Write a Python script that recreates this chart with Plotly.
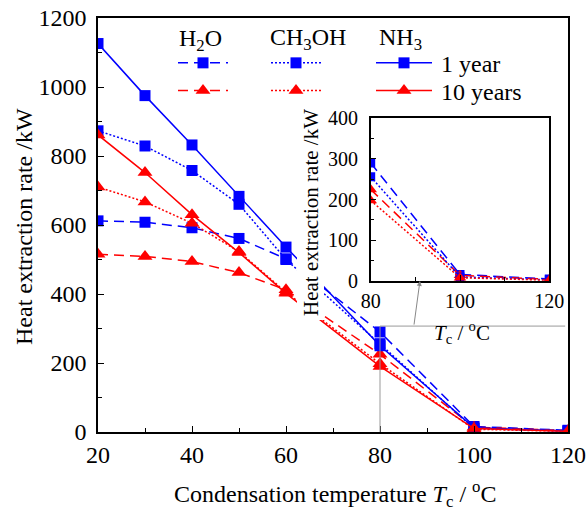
import plotly.graph_objects as go

# ---------------- data ----------------
T = [20, 30, 40, 50, 60, 80, 100, 120]
h2o_1yr = [612, 608, 592, 561, 502, 290, 16, 5]
ch3oh_1yr = [873, 829, 758, 660, 500, 256, 10, 3]
nh3_1yr = [1126, 975, 832, 683, 536, 250, 12, 3]
h2o_10yr = [515, 509, 494, 462, 412, 225, 14, 4]
ch3oh_10yr = [710, 667, 605, 523, 405, 198, 8, 2]
nh3_10yr = [861, 752, 630, 520, 402, 190, 10, 2]
fluids = ["H<sub>2</sub>O", "CH<sub>3</sub>OH", "NH<sub>3</sub>"]
periods = ["1 year", "10 years"]
inset_start = 5  # index of T = 80

BLUE = "#0000ff"
RED = "#ff0000"
FONT = "Times New Roman, Liberation Serif, serif"
DASH = "10px,6px"
DOT = "2px,2px"

series = [
    (h2o_1yr, BLUE, DASH, "square", "legend", " "),
    (h2o_10yr, RED, DASH, "triangle-up", "legend", " "),
    (ch3oh_1yr, BLUE, DOT, "square", "legend2", " "),
    (ch3oh_10yr, RED, DOT, "triangle-up", "legend2", " "),
    (nh3_1yr, BLUE, "solid", "square", "legend3", " "),
    (nh3_10yr, RED, "solid", "triangle-up", "legend3", " "),
]

fig = go.Figure()

for vals, col, dash, sym, leg, name in series:
    fig.add_trace(go.Scatter(
        x=T, y=vals, mode="lines+markers", name=name, legend=leg,
        line=dict(color=col, width=1.5, dash=dash),
        marker=dict(symbol=sym, size=11 if sym == "square" else 13, color=col),
        xaxis="x", yaxis="y",
    ))

# cover (white box behind inset y-title)
fig.add_trace(go.Scatter(x=[None], y=[None], xaxis="x2", yaxis="y2",
                         showlegend=False, hoverinfo="skip"))

# inset traces (H2O and CH3OH)
for vals, col, dash, sym, leg, name in series[:4]:
    fig.add_trace(go.Scatter(
        x=T[inset_start:], y=vals[inset_start:], mode="lines+markers",
        showlegend=False,
        line=dict(color=col, width=1.5, dash=dash),
        marker=dict(symbol=sym, size=9 if sym == "square" else 11, color=col),
        xaxis="x3", yaxis="y3",
    ))

axis_common = dict(
    showline=True, linecolor="black", linewidth=1.5, mirror=True,
    ticks="inside", ticklen=6, tickwidth=1.2, tickcolor="black",
    showgrid=False, zeroline=False,
)
minor_common = dict(ticks="inside", ticklen=4, tickcolor="black", tickwidth=1.2)

W, H = 587, 511
L, R, TOP, B = 98, 19, 18, 79
pw, ph = W - L - R, H - TOP - B


def px_x(p):
    return (p - L) / pw


def px_y(p):
    return (H - B - p) / ph


def ann(text, x, y, size, angle=0, xanchor="center"):
    return dict(text=text, x=px_x(x), y=px_y(y), xref="paper", yref="paper",
                xanchor=xanchor, yanchor="middle", textangle=angle,
                showarrow=False, font=dict(family=FONT, size=size, color="black"))


def leg(x, y, iw):
    return dict(x=px_x(x), y=px_y(y), xanchor="left", yanchor="top",
                bgcolor="rgba(0,0,0,0)", itemwidth=iw, tracegroupgap=0,
                font=dict(family=FONT, size=19, color="black"))


fig.update_layout(
    template="none",
    width=W, height=H,
    margin=dict(l=L, r=R, t=TOP, b=B),
    paper_bgcolor="white", plot_bgcolor="white",
    font=dict(family=FONT, size=20, color="black"),
    xaxis=dict(range=[20, 120], dtick=20, tick0=20, minor=dict(dtick=10, **minor_common),
               tickfont=dict(family=FONT, size=24, color="black"), ticklabelstandoff=0,
               **axis_common),
    yaxis=dict(range=[0, 1200], dtick=200, minor=dict(dtick=100, **minor_common),
               tickfont=dict(family=FONT, size=24, color="black"), ticklabelstandoff=5,
               **axis_common),
    xaxis2=dict(domain=[px_x(297), px_x(324)], anchor="y2", visible=False, range=[0, 1]),
    yaxis2=dict(domain=[px_y(320), px_y(100)], anchor="x2", visible=False, range=[0, 1]),
    xaxis3=dict(domain=[px_x(370.7), px_x(549.3)], anchor="y3",
                range=[80, 120], dtick=20, tick0=80, minor=dict(dtick=10, **minor_common),
                tickfont=dict(family=FONT, size=20, color="black"), ticklabelstandoff=1,
                **axis_common),
    yaxis3=dict(domain=[px_y(281), px_y(118.3)], anchor="x3",
                range=[0, 400], dtick=100, minor=dict(dtick=50, **minor_common),
                tickfont=dict(family=FONT, size=20, color="black"), ticklabelstandoff=7,
                **axis_common),
    showlegend=True,
    legend=leg(173, 44, 50),
    legend2=leg(266, 44, 50),
    legend3=leg(371, 44, 56),
)

annotations = [
    ann(fluids[0], 200, 40, 24),
    ann(fluids[1], 308, 39, 24),
    ann(fluids[2], 400, 39, 24),
    ann(periods[0], 439, 64, 24, xanchor="left"),
    ann(periods[1], 439, 92, 24, xanchor="left"),
    ann("Condensation temperature <i>T</i><sub>c</sub> / <sup>o</sup>C", 335, 494, 24),
    ann("Heat extraction rate /kW", 24, 227, 24, -90),
    ann("Heat extraction rate /kW", 311, 213, 21, -90),
    ann("<i>T</i><sub>c</sub> / <sup>o</sup>C", 462, 332, 21),
    # arrow to inset
    dict(text="", x=88.5, y=438, xref="x", yref="y",
         ax=87.2, ay=307, axref="x", ayref="y",
         showarrow=True, arrowhead=2, arrowsize=1, arrowwidth=1,
         arrowcolor="#888888"),
]
fig.update_layout(annotations=annotations)

fig.add_shape(type="line", xref="x", yref="y", x0=80, x1=119.4, y0=307, y1=307,
              line=dict(color="#999999", width=1))
fig.add_shape(type="line", xref="x", yref="y", x0=80, x1=80, y0=0, y1=307,
              line=dict(color="#999999", width=1))

fig.write_html("out.html")
